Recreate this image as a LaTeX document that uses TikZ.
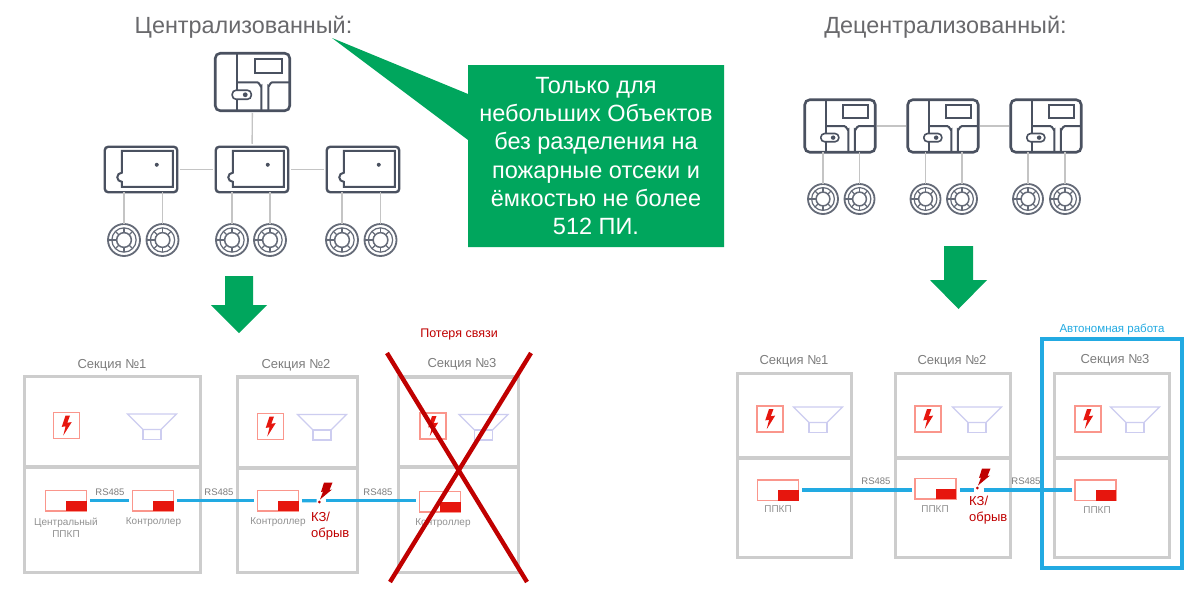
\documentclass[tikz,border=0pt]{standalone}
\usepackage{fontspec}
\setmainfont{Liberation Sans}
\usepackage{xcolor}
\definecolor{calloutgreen}{RGB}{0,166,93}
\definecolor{icondark}{RGB}{74,81,96}
\definecolor{stemgray}{RGB}{196,196,196}
\definecolor{secgray}{RGB}{205,205,205}
\definecolor{titlegray}{RGB}{105,105,108}
\definecolor{labelgray}{RGB}{125,125,125}
\definecolor{smallgray}{RGB}{145,145,145}
\definecolor{alarmred}{RGB}{230,22,14}
\definecolor{palered}{RGB}{250,150,140}
\definecolor{crossred}{RGB}{192,0,0}
\definecolor{hornblue}{RGB}{205,205,240}
\definecolor{busblue}{RGB}{34,170,226}

\tikzset{
  panelbox/.style 2 args={draw=icondark, line width=2.6pt, rounded corners=5pt, minimum width=#1, minimum height=#2, inner sep=0pt, outer sep=0pt},
  ctrlbox/.style={draw=icondark, line width=2.4pt, rounded corners=3.5pt, minimum width=72.5pt, minimum height=45.5pt, inner sep=0pt, outer sep=0pt},
  detbox/.style={circle, draw=icondark!85, line width=1.8pt, minimum size=#1, inner sep=0pt, outer sep=0pt},
  iconline/.style={draw=icondark, line width=2pt},
  stemline/.style={draw=stemgray, line width=1.4pt},
  secline/.style={draw=secgray, line width=3.2pt},
  firebox/.style={draw=palered, fill=white, line width=1.3pt, minimum size=26pt, inner sep=0pt, outer sep=0pt},
  unitbox/.style={draw=palered, fill=white, line width=1.1pt, minimum width=41pt, minimum height=20.5pt, inner sep=0pt, outer sep=0pt, anchor=north west},
  hornline/.style={draw=hornblue, line width=1.1pt},
  busline/.style={draw=busblue, line width=3.4pt, shorten <=3.5pt, shorten >=3.5pt},
  titlelabel/.style={text=titlegray, font=\fontsize{23.4}{28}\selectfont, inner sep=0pt},
  seclabel/.style={text=labelgray, font=\fontsize{13}{15}\selectfont, inner sep=0pt},
  rslabel/.style={text=labelgray, font=\fontsize{9.5}{11}\selectfont, inner sep=0pt},
  unitlabel/.style={text=smallgray, font=\fontsize{10}{12}\selectfont, inner sep=0pt, align=center},
  faultlabel/.style={text=crossred, font=\fontsize{13}{16}\selectfont, inner sep=0pt, align=left, anchor=north west},
  downarrow/.style={fill=calloutgreen},
}

\newcommand{\panelicon}[5]{%
  \node[panelbox={#4pt}{#5pt}] (#1) at (#2,#3) {};
  \begin{scope}[shift={(#1.north west)}, xscale=#4/74.5, yscale=#5/57.5, iconline]
    \draw (22,0) -- (22,57.5);
    \draw (22,29) -- (42,29) to[out=0,in=-90] (46,33) -- (46,57.5);
    \draw (74.5,29) -- (57,29) to[out=180,in=-90] (53,33) -- (53,57.5);
    \draw (40,6) rectangle (67,20);
    \draw[fill=white, line width=1.6pt, rounded corners=3.8pt] (17,37) rectangle (36,46);
    \fill[icondark] (30,41.5) circle (2.4pt);
  \end{scope}}
\newcommand{\ctrlicon}[3]{%
  \node[ctrlbox] (#1) at (#2,#3) {};
  \begin{scope}[shift={(#1.north west)}, iconline]
    \draw (17,4) -- (68,4) -- (68,40) -- (17,40) -- (17,35) arc (-90:-270:4.5pt) -- cycle;
    \fill[icondark] (52,18) circle (2pt);
  \end{scope}}
\newcommand{\deticon}[4]{%
  \node[detbox=#4pt] (#1) at (#2,#3) {};
  \begin{scope}[shift={(#1.center)}, draw=icondark!85, line width=1.2pt]
    \draw (0,0) circle (.76*#4/2*1pt);
    \draw[line width=1.5pt] (0,0) circle (.46*#4/2*1pt);
    \foreach \spokeang in {45,90,...,315}
      \draw (\spokeang:.46*#4/2*1pt) -- (\spokeang:.76*#4/2*1pt);
    \draw[line width=1.4pt] (-#4/2,0) -- (-.46*#4/2,0);
  \end{scope}}
\newcommand{\fireicon}[3]{%
  \node[firebox] (#1) at (#2,#3) {};
  \fill[alarmred, shift={(#1.center)}] (-1,-10) -- (3.5,-10) -- (.8,-2.8) -- (5.2,-3.4) -- (-3.2,10) -- (-.9,.8) -- (-4.8,1.4) -- cycle;}
\newcommand{\hornicon}[2]{%
  \draw[hornline, shift={(#1,#2)}] (0,0) -- (49,0) -- (33.5,15.5) -- (15.5,15.5) -- cycle;
  \draw[hornline, shift={(#1,#2)}] (15.5,15.5) rectangle (33.5,25.5);}
\newcommand{\unitblock}[3]{%
  \node[unitbox] (#1) at (#2,#3) {};
  \fill[alarmred] (#1.south east) rectangle (#1.center);}
\newcommand{\faultmark}[3]{%
  \begin{scope}[shift={(#2,#3)}]
    \fill[crossred] (5,-20) -- (13.5,-20) -- (10.5,-12.5) -- (13,-13) -- (1,-3) -- (4,-11) -- (2,-10.5) -- cycle;
    \node[fill=crossred, circle, minimum size=3pt, inner sep=0pt] (#1) at (.3,-.5) {};
  \end{scope}}

\begin{document}
\begin{tikzpicture}[x=1pt,y=-1pt]
  \useasboundingbox (0,0) rectangle (1199,597);
  \fill[white] (0,0) rectangle (1199,597);

  \node[titlelabel] (titleCentral) at (243.5,27) {Централизованный:};
  \node[titlelabel] (titleDecentral) at (945.5,27) {Децентрализованный:};

  \fill[calloutgreen] (332,38) -- (468,94) -- (468,65) -- (724,65) -- (724,247) -- (468,247) -- (468,140) -- cycle;
  \node[text=white, align=center, font=\fontsize{23.5}{28.2}\selectfont, inner sep=0pt] (noteSmall) at (596,156) {Только для\\небольших Объектов\\без разделения на\\пожарные отсеки и\\ёмкостью не более\\512 ПИ.};

  \panelicon{panelTop}{252.5}{82}{74.5}{57.5}
  \ctrlicon{ctrlA}{141}{169.5}
  \ctrlicon{ctrlB}{252}{169.5}
  \ctrlicon{ctrlC}{363}{169.5}
  \deticon{detA}{124}{240}{32}
  \deticon{detB}{162.5}{240}{32}
  \deticon{detC}{232}{240}{32}
  \deticon{detD}{270}{240}{32}
  \deticon{detE}{342}{240}{32}
  \deticon{detF}{380.5}{240}{32}
  \draw[stemline, shorten <=2pt, shorten >=3pt] (panelTop) -- (ctrlB);
  \draw[stemline, shorten <=3pt, shorten >=3pt] (ctrlA) -- (ctrlB);
  \draw[stemline, shorten <=3pt, shorten >=3pt] (ctrlB) -- (ctrlC);
  \foreach \detname/\ctrlname in {detA/ctrlA,detB/ctrlA,detC/ctrlB,detD/ctrlB,detE/ctrlC,detF/ctrlC}
    \draw[stemline] (\detname.north) -- (\detname.north |- \ctrlname.south);

  \panelicon{panelA}{840}{126}{70.5}{52.5}
  \panelicon{panelB}{943}{126}{70.5}{52.5}
  \panelicon{panelC}{1046}{126}{70.5}{52.5}
  \deticon{detG}{823}{199}{30}
  \deticon{detH}{859.5}{199}{30}
  \deticon{detI}{925.5}{199}{30}
  \deticon{detJ}{962}{199}{30}
  \deticon{detK}{1028}{199}{30}
  \deticon{detL}{1065}{199}{30}
  \draw[stemline, shorten <=2pt, shorten >=2pt] (panelA) -- (panelB);
  \draw[stemline, shorten <=2pt, shorten >=2pt] (panelB) -- (panelC);
  \foreach \detname/\panelname in {detG/panelA,detH/panelA,detI/panelB,detJ/panelB,detK/panelC,detL/panelC}
    \draw[stemline] (\detname.north) -- (\detname.north |- \panelname.south);

  \fill[downarrow] (225,276) -- (253,276) -- (253,305) -- (267,305) -- (239,333) -- (211,305) -- (225,305) -- cycle;
  \fill[downarrow] (944,246) -- (973,246) -- (973,280) -- (987,280) -- (958.5,309) -- (930,280) -- (944,280) -- cycle;

  \node[seclabel] (secTitleA) at (112,365) {Секция №1};
  \node[seclabel] (secTitleB) at (296,365) {Секция №2};
  \node[seclabel] (secTitleC) at (462,364) {Секция №3};
  \draw[secline] (24.5,376.5) rectangle (200.5,572.5);
  \draw[secline] (24.5,467) -- (200.5,467);
  \draw[secline] (237.5,377) rectangle (357.5,572.5);
  \draw[secline] (237.5,468) -- (357.5,468);
  \draw[secline] (398.5,377) rectangle (518.5,572.5);
  \draw[secline] (398.5,467) -- (518.5,467);

  \fireicon{fireA}{66.5}{425.5}
  \fireicon{fireB}{270.5}{426.5}
  \fireicon{fireC}{433}{426}
  \hornicon{127.5}{414}
  \hornicon{297.5}{414.5}
  \hornicon{459}{414.5}

  \unitblock{ppkpA}{45.5}{490.5}
  \unitblock{ctrlD}{132.5}{490.5}
  \unitblock{ctrlE}{257.5}{490.5}
  \unitblock{ctrlF}{419.5}{491.5}
  \coordinate (breakA) at (320,500.7);
  \draw[busline] (ppkpA.east) -- (ctrlD.west);
  \draw[busline] (ctrlD.east) -- (ctrlE.west);
  \draw[busline, shorten >=1.5pt] (ctrlE.east) -- ([xshift=-2pt]breakA);
  \draw[busline, shorten <=1.5pt] ([xshift=4pt]breakA) -- (ctrlF.west |- breakA);
  \faultmark{faultA}{319}{502.5}

  \node[rslabel] (rsA) at (110,492) {RS485};
  \node[rslabel] (rsB) at (219,492) {RS485};
  \node[rslabel] (rsC) at (378,492) {RS485};
  \node[unitlabel] (ppkpAlabel) at (66,528) {Центральный\\ППКП};
  \node[unitlabel] (ctrlDlabel) at (153.5,522) {Контроллер};
  \node[unitlabel] (ctrlElabel) at (278,522) {Контроллер};
  \node[unitlabel] (ctrlFlabel) at (443,523) {Контроллер};
  \node[faultlabel] (faultAtext) at (311,512) {КЗ/\\обрыв};

  \draw[crossred, line width=4.4pt] (387,353) -- (527,582);
  \draw[crossred, line width=4.4pt] (531,353) -- (390,582);
  \node[text=crossred, font=\fontsize{12.5}{15}\selectfont, inner sep=0pt] (lostLink) at (459,334) {Потеря связи};

  \node[seclabel] (secTitleD) at (794,361) {Секция №1};
  \node[seclabel] (secTitleE) at (952,361) {Секция №2};
  \node[seclabel] (secTitleF) at (1115,360) {Секция №3};
  \draw[secline] (737.5,373.5) rectangle (851.5,557.5);
  \draw[secline] (737.5,458) -- (851.5,458);
  \draw[secline] (895.5,373.5) rectangle (1010.5,557.5);
  \draw[secline] (895.5,458) -- (1010.5,458);
  \draw[secline] (1054.5,373.5) rectangle (1169.5,557.5);
  \draw[secline] (1054.5,458) -- (1169.5,458);
  \draw[draw=busblue, line width=3.4pt] (1042,339) rectangle (1182,568);
  \node[text=busblue, font=\fontsize{11.5}{14}\selectfont, inner sep=0pt] (autoWork) at (1112,329) {Автономная работа};

  \fireicon{fireD}{770}{419}
  \fireicon{fireE}{928}{419}
  \fireicon{fireF}{1088}{419}
  \hornicon{793.5}{407}
  \hornicon{952.5}{407}
  \hornicon{1110.5}{407}

  \unitblock{ppkpD}{757.5}{480}
  \unitblock{ppkpE}{915}{478.5}
  \unitblock{ppkpF}{1075}{480}
  \coordinate (busR) at (0,490);
  \coordinate (breakB) at (977,490);
  \draw[busline] (ppkpD.east |- busR) -- (ppkpE.west |- busR);
  \draw[busline, shorten >=1.5pt] (ppkpE.east |- busR) -- ([xshift=-2pt]breakB);
  \draw[busline, shorten <=1.5pt] ([xshift=5pt]breakB) -- (ppkpF.west |- busR);
  \faultmark{faultB}{977}{488.5}

  \node[rslabel] (rsD) at (876,481) {RS485};
  \node[rslabel] (rsE) at (1026,481) {RS485};
  \node[unitlabel] (ppkpDlabel) at (778,509) {ППКП};
  \node[unitlabel] (ppkpElabel) at (935,509) {ППКП};
  \node[unitlabel] (ppkpFlabel) at (1097,510) {ППКП};
  \node[faultlabel] (faultBtext) at (969,495.5) {КЗ/\\обрыв};
\end{tikzpicture}
\end{document}
